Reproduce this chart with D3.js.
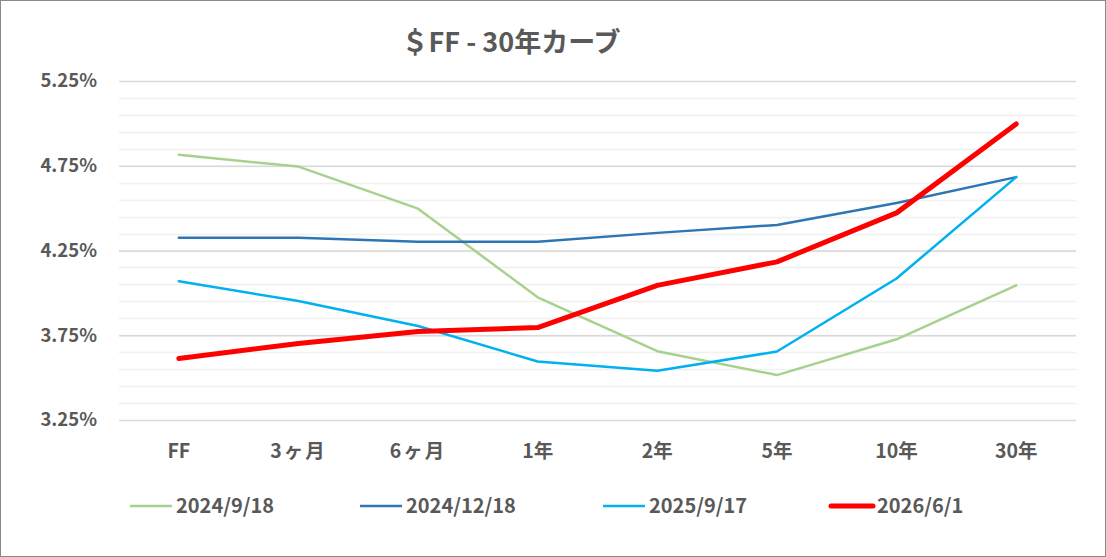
<!DOCTYPE html>
<html lang="ja">
<head>
    <meta charset="UTF-8">
    <title>FF - 30年カーブ</title>
    <script src="https://d3js.org/d3.v7.min.js"></script>
    <style>
        body { margin: 0; background: #fff; }
        svg { display: block; }
        text { font-family: "Noto Sans CJK JP", "Noto Sans", sans-serif; font-weight: bold; fill: #595959; }
    </style>
</head>
<body>
    <svg id="chart" width="1106" height="557"></svg>

    <script>
        // categories and series
        const tenors = ["FF", "3ヶ月", "6ヶ月", "1年", "2年", "5年", "10年", "30年"];
        const yTicks = [3.25, 3.75, 4.25, 4.75, 5.25];

        const s20240918 = [4.815, 4.745, 4.497, 3.974, 3.656, 3.515, 3.726, 4.044];
        const s20241218 = [4.325, 4.325, 4.301, 4.301, 4.354, 4.401, 4.530, 4.683];
        const s20250917 = [4.069, 3.952, 3.805, 3.595, 3.540, 3.654, 4.085, 4.683];
        const s20260601 = [3.613, 3.701, 3.772, 3.795, 4.044, 4.183, 4.472, 4.997];

        const seriesNames = ["2024/9/18", "2024/12/18", "2025/9/17", "2026/6/1"];
        const seriesColors = ["#a9d18e", "#2e75b6", "#00b0f0", "#ff0000"];
        const seriesWidths = [2.5, 2.5, 2.5, 5];
        const seriesValues = [s20240918, s20241218, s20250917, s20260601];

        const svg = d3.select("#chart");
        const W = 1106, H = 557;

        // outer border
        svg.append("rect")
            .attr("x", 0.5).attr("y", 0.5)
            .attr("width", W - 1).attr("height", H - 1)
            .attr("fill", "#fff")
            .attr("stroke", "#898989");

        const x = d3.scaleBand()
            .domain(tenors)
            .range([119, 1076]);

        const y = d3.scaleLinear()
            .domain([3.25, 5.25])
            .range([420, 81]);

        // minor gridlines every 0.1 from 3.25
        const minor = d3.range(3.35, 5.25, 0.1);
        svg.append("g").selectAll("line")
            .data(minor)
            .enter().append("line")
            .attr("x1", 119).attr("x2", 1076)
            .attr("y1", d => Math.round(y(d)) + 0.5)
            .attr("y2", d => Math.round(y(d)) + 0.5)
            .attr("stroke", "#f0f0f0")
            .attr("stroke-width", 1.5);

        // major gridlines with labels
        const yAxis = d3.axisLeft(y)
            .tickValues(yTicks)
            .tickSize(-957)
            .tickPadding(22)
            .tickFormat(d => d.toFixed(2) + "%");

        const gy = svg.append("g")
            .attr("transform", "translate(119,0)")
            .call(yAxis);
        gy.select(".domain").remove();
        gy.selectAll(".tick line")
            .attr("stroke", "#d9d9d9")
            .attr("stroke-width", 1.5);
        gy.selectAll(".tick text")
            .attr("font-size", 18.5)
            .attr("fill", "#595959");

        // category labels
        const xAxis = d3.axisBottom(x).tickSize(0).tickPadding(0);
        const gx = svg.append("g")
            .attr("transform", "translate(0,442)")
            .call(xAxis);
        gx.select(".domain").remove();
        gx.selectAll(".tick text")
            .attr("font-size", 19.5)
            .attr("fill", "#595959")
            .attr("dy", "0.8em")
            .attr("letter-spacing", d => d.indexOf("ヶ") >= 0 ? 2 : 0);

        // lines
        const line = d3.line()
            .x((d, i) => x(tenors[i]) + x.bandwidth() / 2)
            .y(d => y(d));

        svg.append("g").selectAll("path")
            .data(seriesValues)
            .enter().append("path")
            .attr("d", d => line(d))
            .attr("fill", "none")
            .attr("stroke", (d, i) => seriesColors[i])
            .attr("stroke-width", (d, i) => seriesWidths[i])
            .attr("stroke-linejoin", "round")
            .attr("stroke-linecap", "round");

        // title
        svg.append("text")
            .attr("x", 511)
            .attr("y", 52)
            .attr("text-anchor", "middle")
            .attr("font-size", 27)
            .text("＄FF - 30年カーブ");

        // legend
        const legendX = [130, 360, 603, 831];
        const legend = svg.append("g").selectAll("g")
            .data(seriesNames)
            .enter().append("g")
            .attr("transform", (d, i) => "translate(" + legendX[i] + ",506)");
        legend.append("line")
            .attr("x1", 0).attr("x2", 42)
            .attr("stroke", (d, i) => seriesColors[i])
            .attr("stroke-width", (d, i) => seriesWidths[i])
            .attr("stroke-linecap", (d, i) => i === 3 ? "round" : "butt");
        legend.append("text")
            .attr("x", 46)
            .attr("dy", "0.35em")
            .attr("font-size", 20)
            .text(d => d);
    </script>
</body>
</html>
